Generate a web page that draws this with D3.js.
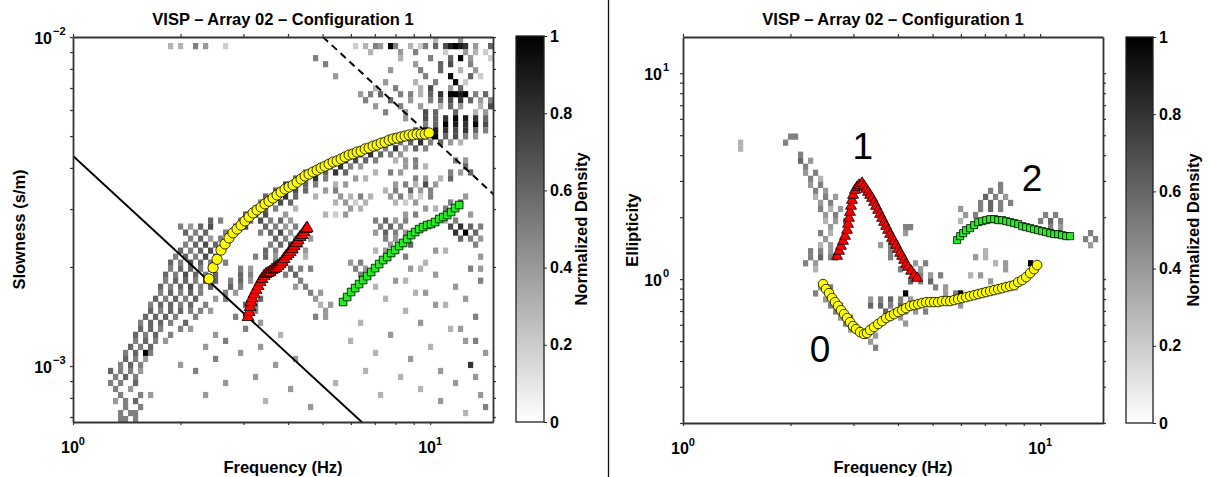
<!DOCTYPE html>
<html><head><meta charset="utf-8">
<script src="https://cdn.jsdelivr.net/npm/d3@7"></script>
<style>
body{margin:0;background:#fff}
svg{display:block}
text{font-family:"Liberation Sans",Arial,Helvetica,sans-serif;}
</style>
</head><body>
<svg id="c" width="1208" height="477"></svg>
<script>
// ---------------- DATA ----------------
const titleText = "VISP \u2013 Array 02 \u2013 Configuration 1";
const freqDomain = [1, 15];
const slowDomain = [6.76e-4, 1e-2];
const ellDomain = [0.2, 15];
const cbTicks = [0, 0.2, 0.4, 0.6, 0.8, 1];
const cbTickLabels = ["0", "0.2", "0.4", "0.6", "0.8", "1"];
const xTickLabels = [{v:1, base:"10", exp:"0"}, {v:10, base:"10", exp:"1"}];
const slowTickLabels = [{v:1e-2, base:"10", exp:"\u22122"}, {v:1e-3, base:"10", exp:"\u22123"}];
const ellTickLabels = [{v:10, base:"10", exp:"1"}, {v:1, base:"10", exp:"0"}];

// Slowness picks (left panel)
const freqYellowL = [2.404,2.467,2.531,2.597,2.665,2.735,2.806,2.880,2.955,3.032,
 3.112,3.193,3.277,3.362,3.450,3.540,3.633,3.728,3.825,3.925,
 4.027,4.133,4.242,4.352,4.466,4.583,4.703,4.826,4.952,5.082,
 5.214,5.351,5.491,5.634,5.781,5.933,6.088,6.247,6.410,6.578,
 6.750,6.926,7.107,7.293,7.484,7.680,7.880,8.086,8.298,8.511,
 8.735,8.963,9.197,9.437,9.683,9.936];
const slowYellowL = [1.84e-3,1.99e-3,2.11e-3,2.25e-3,2.35e-3,2.45e-3,2.54e-3,2.61e-3,2.68e-3,2.76e-3,
 2.84e-3,2.92e-3,2.98e-3,3.04e-3,3.11e-3,3.17e-3,3.24e-3,3.31e-3,3.38e-3,3.45e-3,
 3.50e-3,3.55e-3,3.62e-3,3.70e-3,3.78e-3,3.83e-3,3.89e-3,3.94e-3,4.00e-3,4.05e-3,
 4.11e-3,4.17e-3,4.20e-3,4.26e-3,4.32e-3,4.38e-3,4.41e-3,4.47e-3,4.50e-3,4.57e-3,
 4.60e-3,4.66e-3,4.70e-3,4.76e-3,4.79e-3,4.86e-3,4.90e-3,4.93e-3,4.97e-3,5.00e-3,
 5.04e-3,5.04e-3,5.07e-3,5.07e-3,5.07e-3,5.11e-3];
const freqRedL = [3.092,3.112,3.132,3.152,3.173,3.214,3.256,3.298,3.341,3.384,
 3.428,3.472,3.518,3.563,3.609,3.656,3.704,3.752,3.801,3.850,
 3.900,3.951,4.002,4.054,4.107,4.159,4.213,4.268,4.325,4.381,
 4.437,4.495,4.524];
const slowRedL = [1.409e-3,1.459e-3,1.511e-3,1.565e-3,1.609e-3,1.655e-3,1.702e-3,1.750e-3,1.800e-3,1.838e-3,
 1.877e-3,1.904e-3,1.917e-3,1.931e-3,1.958e-3,1.972e-3,1.985e-3,2.014e-3,2.042e-3,2.071e-3,
 2.114e-3,2.159e-3,2.190e-3,2.221e-3,2.269e-3,2.317e-3,2.366e-3,2.415e-3,2.466e-3,2.501e-3,
 2.554e-3,2.608e-3,2.627e-3];
const freqGreenL = [5.705,5.857,6.010,6.167,6.328,6.494,6.663,6.838,7.016,7.200,
 7.388,7.582,7.780,7.980,8.189,8.403,8.623,8.848,9.078,9.316,
 9.559,9.808,10.06,10.33,10.60,10.88,11.16,11.45,11.75,12.06];
const slowGreenL = [1.565e-3,1.621e-3,1.679e-3,1.726e-3,1.775e-3,1.826e-3,1.877e-3,1.931e-3,1.985e-3,2.042e-3,
 2.100e-3,2.144e-3,2.205e-3,2.253e-3,2.317e-3,2.366e-3,2.432e-3,2.501e-3,2.554e-3,2.608e-3,
 2.645e-3,2.682e-3,2.701e-3,2.739e-3,2.798e-3,2.837e-3,2.877e-3,2.938e-3,3.021e-3,3.086e-3];
// resolution limit lines (endpoints in freq / slowness)
const kminLineF = [1, 6.6], kminLineS = [4.35e-3, 6.59e-4];
const kmaxLineF = [5.01, 15.5], kmaxLineS = [1e-2, 3.23e-3];

// Ellipticity picks (right panel)
const freqYellowR = [2.467,2.515,2.564,2.614,2.665,2.718,2.770,2.825,2.880,2.936,
 2.994,3.052,3.132,3.214,3.277,3.341,3.428,3.518,3.609,3.704,
 3.801,3.900,4.002,4.107,4.213,4.325,4.437,4.553,4.672,4.795,
 4.920,5.049,5.181,5.316,5.456,5.598,5.745,5.895,6.049,6.206,
 6.368,6.535,6.706,6.882,7.062,7.246,7.436,7.630,7.830,8.034,
 8.245,8.460,8.682,8.909,9.138,9.376,9.621,9.808];
const ellYellowR = [0.946,0.894,0.855,0.809,0.773,0.740,0.707,0.676,0.647,0.618,
 0.591,0.572,0.553,0.541,0.547,0.566,0.585,0.605,0.625,0.647,
 0.661,0.676,0.692,0.707,0.723,0.740,0.748,0.756,0.765,0.773,
 0.773,0.773,0.773,0.782,0.782,0.782,0.791,0.800,0.809,0.818,
 0.827,0.836,0.846,0.855,0.865,0.875,0.884,0.894,0.904,0.915,
 0.925,0.935,0.967,0.989,1.023,1.069,1.118,1.170];
const freqRedR = [2.701,2.735,2.770,2.806,2.843,2.880,2.899,2.917,2.936,2.955,
 2.974,2.994,3.032,3.072,3.112,3.173,3.214,3.256,3.298,3.341,
 3.384,3.428,3.472,3.518,3.563,3.609,3.656,3.704,3.752,3.801,
 3.850,3.900,3.951,4.002,4.054,4.107,4.159,4.213,4.268,4.352,
 4.437,4.524];
const ellRedR = [1.293,1.367,1.446,1.529,1.617,1.729,1.849,1.978,2.114,2.262,
 2.418,2.557,2.704,2.797,2.860,2.924,2.828,2.735,2.645,2.557,
 2.473,2.365,2.262,2.163,2.068,1.978,1.891,1.808,1.729,1.653,
 1.581,1.529,1.462,1.398,1.337,1.293,1.236,1.183,1.144,1.094,
 1.046,1.011];
const freqGreenR = [5.857,5.971,6.088,6.206,6.368,6.535,6.706,6.882,7.062,7.246,
 7.436,7.630,7.830,8.034,8.245,8.460,8.682,8.909,9.138,9.376,
 9.621,9.872,10.13,10.39,10.67,10.95,11.23,11.52,11.83,12.13];
const ellGreenR = [1.547,1.617,1.672,1.729,1.768,1.829,1.891,1.912,1.934,1.956,
 1.956,1.934,1.934,1.912,1.891,1.870,1.849,1.808,1.788,1.768,
 1.748,1.729,1.710,1.691,1.672,1.653,1.653,1.635,1.617,1.617];
const modeLabels = [{t:"0", f:2.42, e:0.395}, {t:"1", f:3.19, e:3.82}, {t:"2", f:9.50, e:2.67}];

// Density grids: 84 log-frequency bins x 64 log-y bins; runs [row from top, col, chars]
// chars: ' ' empty, '1'..'9' = 0.1..0.9, '#' = 1
const gridCols = 84, gridRows = 64;
const densityRunsL = [
 [0,72,"3    4"],[1,19,"3 3  5 4   2"],[1,56,"2 3 54 #5  3 25 6 79#98 4  6"],
 [2,59,"3     4  5     2   4 3 2"],[3,48,"5"],[3,65,"3     5   6 # 4   2"],
 [4,50,"5"],[4,68,"4    6 7   5"],[5,63,"4     5   6   3  4"],
 [6,52,"4"],[6,70,"5    #   6 2"],[7,62,"4     3   5   # 2"],
 [8,60,"3   5    3 7   4 6"],[9,57,"4 5 6   5 5 3 6 8 ##9# 5 6 7"],
 [10,58,"5    6   4   5 6 7 8 6 4 5"],[11,60,"4    5   4   3 6 4   3 7 6"],
 [12,62,"5   4   7 6   6   3 4 6"],[13,66,"4   7 6 8 # 9 8 6 5 4"],
 [14,70,"5 6 # 9 8 # 7 6"],[15,68,"6 # 9 8 7 8 6 5"],[16,64,"5 6 7 8 # 6 7 5 4"],
 [17,61,"6 7 5 6 8 5 6 4 3"],[18,58,"7 6 5 8 4 6 5"],[19,55,"6 7 8 6 5 4"],
 [20,52,"6 8 7 6 5"],[21,49,"7 6 8 5 4"],[22,46,"5 7 6 8 6"],[23,44,"6 7 8 5"],
 [24,42,"7 8 6 5"],[25,40,"6 5 7 6"],[26,38,"6 7 8 6"],[27,37,"5 8 7 6"],
 [28,36,"7 6 5"],[29,34,"6 8 7"],[30,33,"5 6 7"],[31,32,"6 7"],[32,30,"5 6"],[33,27,"4 5 6"],
 [20,64,"3 4 5"],[20,76,"5 4"],[21,66,"4 5 3"],[21,78,"6"],[22,60,"3  5 4"],[22,75,"5 4 6"],
 [23,56,"4 3"],[23,68,"5 4  3 6"],[24,52,"3 4"],[24,64,"4 5 3 7 4"],[25,50,"4 5"],[25,62,"3 5  6 4 5"],
 [26,48,"3"],[26,53,"4 3 5 3"],[26,63,"4 5 3 2 5"],[26,78,"4"],[27,52,"3 4 2 3"],[27,64,"3 2 4"],[27,75,"5 6"],
 [28,44,"3"],[28,55,"4 3"],[28,70,"4 3 5"],[29,42,"4"],[29,50,"3 2 4"],[29,66,"4 5"],[29,79,"4"],
 [30,27,"6 5"],[30,39,"5 6 4"],[30,60,"5 6 4 5"],[30,74,"3 5"],
 [31,21,"5 4 6 7"],[31,38,"6 5 4 5"],[31,61,"5 6 5"],[31,75,"7 8 6 5"],
 [32,22,"6 5 6"],[32,37,"5 6 7 4"],[32,60,"4 6 5 4"],[32,76,"8 # 6"],
 [33,23,"5 6"],[33,40,"6 5 4"],[33,47,"4"],[33,62,"5 4"],[33,77,"6 5 4"],
 [34,22,"5 6 7 6"],[34,39,"5 6 7 5"],[34,63,"4 5 6"],[34,80,"5"],
 [35,21,"6 5 6 7"],[35,38,"6 5"],[35,44,"5 4"],[35,60,"3 4 5"],[35,72,"4 3"],
 [36,20,"5 6 5 7 6"],[36,36,"5 6 4"],[36,46,"3"],[36,66,"5"],[36,81,"4"],
 [37,19,"6 5 7 6 5"],[37,30,"5"],[37,40,"6 5"],[37,55,"4 5"],[37,70,"3"],
 [38,19,"5 6 6 5 6"],[38,33,"5 4"],[38,43,"6 5 5"],[38,56,"5 4"],[38,67,"4 3"],[38,79,"5 4"],
 [39,18,"6 5 7 6 5 6"],[39,33,"6 5"],[39,42,"5 6"],[39,57,"5"],[39,72,"4"],
 [40,18,"5 6 6 5 7 6"],[40,31,"5 6 4"],[40,45,"5"],[40,64,"4 3"],[40,81,"5"],
 [41,17,"6 5 6 7 5 6"],[41,31,"6 5"],[41,44,"4 5"],[41,60,"3"],[41,76,"4"],
 [42,17,"5 6 5 6 5"],[42,30,"5 4"],[42,36,"6"],[42,47,"5 4"],[42,68,"3 4"],
 [43,16,"6 5 6 5 6"],[43,28,"4 5"],[43,35,"5 6"],[43,48,"4"],[43,62,"3"],[43,78,"4"],
 [44,15,"5 6 6 5 6"],[44,26,"5"],[44,34,"6 5"],[44,49,"3 4"],[44,72,"4 3"],
 [45,15,"6 5 6 6 5"],[45,25,"5 4"],[45,36,"5"],[45,50,"4"],[45,66,"3"],
 [46,14,"6 6 6 5"],[46,24,"5"],[46,32,"5 6"],[46,48,"5 4"],[46,80,"5"],
 [47,13,"5 6 6 5"],[47,22,"6"],[47,37,"4"],[47,57,"3"],[47,69,"4"],
 [48,13,"6 6 5"],[48,21,"5 4"],[48,34,"5"],[48,75,"3 4"],
 [49,12,"6 5 6"],[49,19,"5"],[49,28,"4"],[49,41,"3"],[49,63,"4"],
 [50,12,"5 6 5"],[50,18,"4"],[50,30,"5"],[50,55,"3"],[50,78,"4 5"],
 [51,11,"6 5 6"],[51,26,"4"],[51,37,"4"],[51,71,"3"],
 [52,10,"5 6 #"],[52,15,"5"],[52,33,"4"],[52,60,"3"],[52,82,"4"],
 [53,10,"6 5"],[53,14,"4"],[53,28,"5"],[53,44,"4"],[53,67,"4"],
 [54,9,"5 6"],[54,13,"5"],[54,21,"4"],[54,40,"4"],[54,79,"8"],
 [55,7,"6 5 5 4"],[55,24,"5"],[55,58,"3"],[55,73,"4"],
 [56,8,"5 6 5"],[56,36,"4"],[56,65,"3"],[56,80,"4"],
 [57,7,"5 5"],[57,12,"6"],[57,30,"4"],[57,52,"3"],[57,76,"4"],
 [58,8,"5"],[58,11,"4"],[58,43,"4"],[58,69,"3"],
 [59,9,"5"],[59,13,"5 4"],[59,26,"4"],[59,61,"3"],[59,81,"4"],
 [60,8,"4 5"],[60,12,"6"],[60,38,"3"],[60,73,"4"],
 [61,10,"5"],[61,13,"5"],[61,47,"4"],[61,82,"5"],
 [62,9,"5 55"],[62,78,"3"],[63,9,"55 5"]
];
const densityRunsR = [
 [16,21,"55"],[17,20,"5"],[17,11,"3"],[18,11,"3"],
 [19,23,"5"],[20,23,"6 4"],[21,24,"5"],[22,24,"4 5"],[23,25,"5 3"],[24,25,"4 5"],
 [25,26,"5 4"],[26,26,"3 5 4"],[27,27,"4 5"],[28,27,"5 3 4"],[29,28,"4 5"],[30,28,"3 4 5"],
 [31,29,"4"],[32,27,"5 3"],[33,28,"4"],[34,27,"3 4"],[35,25,"5 5 4"],[36,25,"5 6 5#"],
 [37,24,"5 4"],[38,26,"3"],
 [41,27,"4 5"],[42,26,"5"],[43,28,"4"],[44,29,"5 4"],[45,30,"5"],[46,31,"4 5"],[47,32,"5"],[48,33,"4"],
 [49,36,"5 4"],[50,37,"4"],[51,38,"5"],
 [43,37,"4 5 6 5 4"],[44,37,"6 6 5 6 5"],[45,40,"6 5 5 4 5"],[46,41,"5 4"],[47,44,"4"],
 [42,44,"#"],[42,55,"#"],
 [31,44,"55"],[32,44,"4"],[34,39,"4 5"],[35,41,"5"],[36,41,"5 4"],[37,46,"4 5"],
 [38,43,"5 6 4"],[39,47,"5 4 5"],[40,45,"6 5 6"],[41,50,"5 4"],
 [24,63,"5"],[25,61,"5 5"],[26,60,"6 5 4"],[27,59,"5 6 5 5"],[28,55,"4   5 6 5"],[29,56,"4 5"],[30,55,"3"],
 [29,72,"5 5"],[30,71,"5 6 5"],[31,73,"5 4"],[32,75,"4"],[32,81,"5"],[33,80,"5 5"],[34,81,"4"],
 [35,60,"3"],[36,58,"4 3"],[37,62,"3 4"],[37,69,"#"],[38,64,"4"],[39,57,"3 4"],[40,61,"4"],
 [41,66,"3"],[42,52,"4 5"],[43,53,"5 4"],[44,55,"4"]
];

// ---------------- DRAWING ----------------
const svg = d3.select("#c");
const gray = d3.scaleLinear().domain([0,1]).range(["#ffffff","#000000"]);
const FONT_T = 16.5, FONT_TICK = 16, FONT_EXP = 11;

svg.append("line").attr("x1",608.5).attr("x2",608.5).attr("y1",0).attr("y2",477)
  .attr("stroke","#111").attr("stroke-width",1.3);

function cellsFrom(runs){
  const out=[];
  runs.forEach(([r,c,s])=>{
    for(let k=0;k<s.length;k++){
      const ch=s[k]; if(ch===' ') continue;
      const cc=c+k; if(cc>=gridCols||r>=gridRows) continue;
      out.push({r, c:cc, d: ch==='#'?1:(+ch)/10});
    }
  });
  return out;
}

function panel(cfg){
  const {x0,x1,y0,y1,yDomain,cells,yTickLabels,yLabel,cbX0,cbX1,cbY0,cbY1,yLabelX,cbLabelX,yTickBaseGap,id} = cfg;
  const x = d3.scaleLog().domain(freqDomain).range([x0,x1]);
  const y = d3.scaleLog().domain(yDomain).range([y1,y0]);
  const g = svg.append("g");
  g.append("clipPath").attr("id","clip"+id).append("rect")
    .attr("x",x0).attr("y",y0).attr("width",x1-x0).attr("height",y1-y0);
  const fe = i => freqDomain[0]*Math.pow(freqDomain[1]/freqDomain[0], i/gridCols);
  const ye = j => yDomain[1]*Math.pow(yDomain[0]/yDomain[1], j/gridRows);
  g.append("g").attr("clip-path",`url(#clip${id})`).selectAll("rect").data(cells).join("rect")
    .attr("x",d=>x(fe(d.c))).attr("width",d=>x(fe(d.c+1))-x(fe(d.c))+0.2)
    .attr("y",d=>y(ye(d.r))).attr("height",d=>y(ye(d.r+1))-y(ye(d.r))+0.2)
    .attr("fill",d=>gray(d.d));
  const plot = g.append("g").attr("clip-path",`url(#clip${id})`);
  const xt = x.ticks(), yt = y.ticks();
  const axes = [
    [d3.axisBottom(x).tickValues(xt), `translate(0,${y1})`],
    [d3.axisTop(x).tickValues(xt), `translate(0,${y0})`],
    [d3.axisLeft(y).tickValues(yt), `translate(${x0},0)`],
    [d3.axisRight(y).tickValues(yt), `translate(${x1},0)`]
  ];
  axes.forEach(([ax,tr])=>{
    const a = g.append("g").attr("transform",tr).call(ax.tickSize(3).tickSizeOuter(0).tickFormat(""));
    a.select(".domain").attr("stroke","#333").attr("stroke-width",1.8);
    a.selectAll(".tick line").attr("stroke","#333").attr("stroke-width",1.2);
  });
  xTickLabels.forEach(t=>{
    const tx = g.append("text").attr("x",x(t.v)).attr("y",y1+31).attr("text-anchor","middle")
      .attr("font-weight","bold").attr("font-size",FONT_TICK).attr("fill","#000");
    tx.append("tspan").text(t.base);
    tx.append("tspan").attr("dy",-8).attr("font-size",FONT_EXP).text(t.exp);
  });
  yTickLabels.forEach(t=>{
    const yy = y(t.v);
    g.append("text").attr("x",x0-yTickBaseGap).attr("y",yy+6.5).attr("text-anchor","end")
      .attr("font-weight","bold").attr("font-size",FONT_TICK).text(t.base);
    g.append("text").attr("x",x0-yTickBaseGap+1).attr("y",yy-2).attr("text-anchor","start")
      .attr("font-weight","bold").attr("font-size",FONT_EXP).text(t.exp);
  });
  g.append("text").attr("x",(x0+x1)/2).attr("y",25).attr("text-anchor","middle")
    .attr("font-weight","bold").attr("font-size",FONT_T).text(titleText);
  g.append("text").attr("x",(x0+x1)/2).attr("y",473).attr("text-anchor","middle")
    .attr("font-weight","bold").attr("font-size",FONT_T).text("Frequency (Hz)");
  g.append("text").attr("transform",`translate(${yLabelX+6},${(y0+y1)/2}) rotate(-90)`)
    .attr("text-anchor","middle").attr("font-weight","bold").attr("font-size",FONT_T).text(yLabel);
  const gid = "grad"+id;
  const grad = g.append("defs").append("linearGradient").attr("id",gid)
    .attr("x1",0).attr("y1",1).attr("x2",0).attr("y2",0);
  grad.append("stop").attr("offset","0%").attr("stop-color",gray(0));
  grad.append("stop").attr("offset","100%").attr("stop-color",gray(1));
  g.append("rect").attr("x",cbX0).attr("y",cbY0).attr("width",cbX1-cbX0).attr("height",cbY1-cbY0)
    .attr("fill",`url(#${gid})`).attr("stroke","#222").attr("stroke-width",1.3);
  const cb = d3.scaleLinear().domain([0,1]).range([cbY1,cbY0]);
  const cba = g.append("g").attr("transform",`translate(${cbX1},0)`)
    .call(d3.axisRight(cb).tickValues(cbTicks).tickSize(3).tickSizeOuter(0).tickPadding(3)
      .tickFormat((d,i)=>cbTickLabels[i]));
  cba.select(".domain").remove();
  cba.selectAll(".tick line").attr("stroke","#222");
  cba.selectAll(".tick text").attr("font-weight","bold").attr("font-size",FONT_TICK)
    .attr("fill","#000").attr("font-family","'Liberation Sans',Arial,sans-serif");
  g.append("text").attr("transform",`translate(${cbLabelX+6},${(cbY0+cbY1)/2}) rotate(-90)`)
    .attr("text-anchor","middle").attr("font-weight","bold").attr("font-size",FONT_T).text("Normalized Density");
  return {x,y,plot};
}

function markers(p, fs, vs, type, size, fill){
  p.plot.append("g").selectAll("path").data(fs.map((f,i)=>[f,vs[i]])).join("path")
    .attr("transform",d=>`translate(${p.x(d[0])},${p.y(d[1])})`)
    .attr("d",d3.symbol().type(type).size(size)())
    .attr("fill",fill).attr("stroke","#000").attr("stroke-width",0.8);
}

// Left panel
const L = panel({id:"L",x0:73,x1:493,y0:37,y1:422,yDomain:slowDomain,cells:cellsFrom(densityRunsL),
  yTickLabels:slowTickLabels,yLabel:"Slowness (s/m)",cbX0:516,cbX1:544,cbY0:36,cbY1:422,
  yLabelX:19,cbLabelX:581,yTickBaseGap:21});
const line = d3.line().x(d=>L.x(d[0])).y(d=>L.y(d[1]));
L.plot.append("path").attr("d",line(kminLineF.map((f,i)=>[f,kminLineS[i]])))
  .attr("stroke","#000").attr("stroke-width",2).attr("fill","none");
L.plot.append("path").attr("d",line(kmaxLineF.map((f,i)=>[f,kmaxLineS[i]])))
  .attr("stroke","#000").attr("stroke-width",2).attr("fill","none").attr("stroke-dasharray","7,5");
markers(L, freqGreenL, slowGreenL, d3.symbolSquare, 58, "#22ee22");
markers(L, freqRedL, slowRedL, d3.symbolTriangle, 62, "#ff0000");
markers(L, freqYellowL, slowYellowL, d3.symbolCircle, 82, "#ffff00");

// Right panel
const R = panel({id:"R",x0:683,x1:1103,y0:37,y1:423,yDomain:ellDomain,cells:cellsFrom(densityRunsR),
  yTickLabels:ellTickLabels,yLabel:"Ellipticity",cbX0:1126,cbX1:1153,cbY0:37,cbY1:423,
  yLabelX:632,cbLabelX:1193,yTickBaseGap:21});
markers(R, freqGreenR, ellGreenR, d3.symbolSquare, 50, "#22ee22");
markers(R, freqRedR, ellRedR, d3.symbolTriangle, 52, "#ff0000");
markers(R, freqYellowR, ellYellowR, d3.symbolCircle, 72, "#ffff00");
R.plot.append("g").selectAll("text").data(modeLabels).join("text")
  .attr("x",d=>R.x(d.f)).attr("y",d=>R.y(d.e)).attr("text-anchor","middle")
  .attr("font-size",37).attr("font-weight","normal").attr("fill","#000").text(d=>d.t);
</script>
</body></html>
